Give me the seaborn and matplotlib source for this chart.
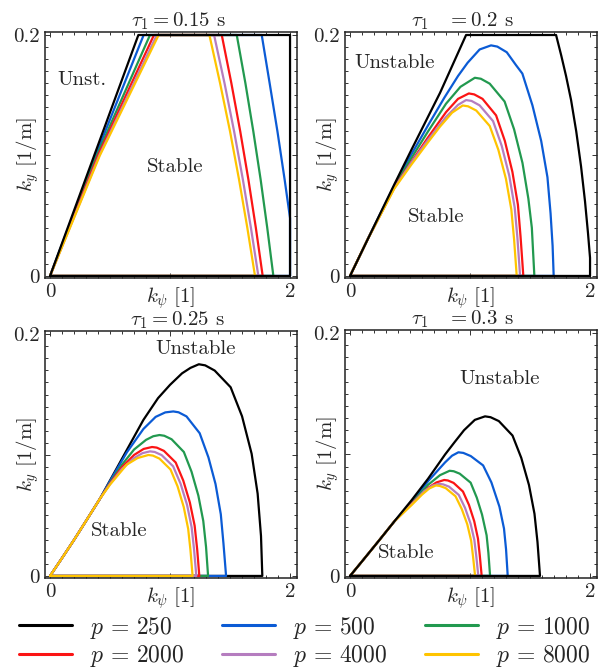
import numpy as np
import pandas as pd
import matplotlib
matplotlib.use("Agg")
import matplotlib.pyplot as plt
import seaborn as sns
from matplotlib.lines import Line2D
from matplotlib.ticker import FixedLocator, FixedFormatter, MultipleLocator

# Stability boundaries (k_psi, k_y), one list per curve
# tau_1 = 0.15 s
t15_p250 = [(0, 0), (0.736, 0.2), (2.0, 0.2), (2.0, 0), (0, 0)]
t15_p500 = [(0, 0), (0.38, 0.1), (0.78, 0.2), (1.764, 0.2), (1.83, 0.16), (1.895, 0.12),
            (1.955, 0.08), (2.0, 0.048), (2.0, 0), (0, 0)]
t15_p1000 = [(0, 0), (0.39, 0.1), (0.833, 0.2), (1.556, 0.2), (1.628, 0.16), (1.694, 0.12),
             (1.755, 0.08), (1.81, 0.04), (1.861, 0), (0, 0)]
t15_p2000 = [(0, 0), (0.40, 0.1), (0.866, 0.2), (1.431, 0.2), (1.511, 0.16), (1.585, 0.12),
             (1.653, 0.08), (1.715, 0.04), (1.772, 0), (0, 0)]
t15_p4000 = [(0, 0), (0.41, 0.1), (0.89, 0.2), (1.367, 0.2), (1.454, 0.16), (1.534, 0.12),
             (1.607, 0.08), (1.674, 0.04), (1.736, 0), (0, 0)]
t15_p8000 = [(0, 0), (0.415, 0.1), (0.905, 0.2), (1.328, 0.2), (1.417, 0.16), (1.500, 0.12),
             (1.575, 0.08), (1.644, 0.04), (1.708, 0), (0, 0)]

# tau_1 = 0.2 s
t20_p250 = [(0, 0), (0.15, 0.031), (0.369, 0.076), (0.508, 0.104), (0.75, 0.152), (0.967, 0.2),
            (1.717, 0.2), (1.76, 0.183), (1.80, 0.166), (1.842, 0.146), (1.885, 0.12),
            (1.925, 0.091), (1.958, 0.062), (1.983, 0.0355), (2.0, 0.015), (2.0, 0), (0, 0)]
t20_p500 = [(0, 0), (0.15, 0.031), (0.369, 0.075), (0.5, 0.099), (0.65, 0.125), (0.786, 0.148),
            (0.9, 0.166), (0.98, 0.177), (1.08, 0.188), (1.175, 0.1914), (1.227, 0.1904),
            (1.306, 0.1857), (1.383, 0.175), (1.436, 0.168), (1.52, 0.1416), (1.593, 0.112),
            (1.645, 0.082), (1.671, 0.052), (1.688, 0.025), (1.697, 0), (0, 0)]
t20_p1000 = [(0, 0), (0.15, 0.031), (0.369, 0.074), (0.5, 0.096), (0.65, 0.12), (0.8, 0.143),
             (0.92, 0.157), (1.04, 0.1645), (1.09, 0.1637), (1.164, 0.1596), (1.288, 0.1448),
             (1.367, 0.1217), (1.437, 0.0938), (1.486, 0.0642), (1.515, 0.04), (1.536, 0), (0, 0)]
t20_p2000 = [(0, 0), (0.15, 0.031), (0.369, 0.0735), (0.5, 0.093), (0.65, 0.115), (0.8, 0.136),
             (0.9, 0.147), (0.99, 0.1515), (1.035, 0.1507), (1.104, 0.147), (1.217, 0.1333),
             (1.29, 0.1121), (1.353, 0.0864), (1.399, 0.0591), (1.421, 0.0326), (1.444, 0), (0, 0)]
t20_p4000 = [(0, 0), (0.15, 0.031), (0.369, 0.073), (0.5, 0.0925), (0.65, 0.113), (0.8, 0.132),
             (0.9, 0.142), (0.967, 0.146), (1.012, 0.1453), (1.08, 0.1416), (1.192, 0.1285),
             (1.264, 0.108), (1.327, 0.0832), (1.372, 0.0569), (1.395, 0.0314), (1.417, 0), (0, 0)]
t20_p8000 = [(0, 0), (0.15, 0.031), (0.369, 0.0725), (0.508, 0.092), (0.65, 0.111), (0.75, 0.124),
             (0.85, 0.1355), (0.939, 0.1415), (0.984, 0.1408), (1.052, 0.1373), (1.164, 0.1245),
             (1.236, 0.1047), (1.299, 0.0807), (1.344, 0.0552), (1.367, 0.0304), (1.389, 0), (0, 0)]

# tau_1 = 0.25 s
t25_p250 = [(0, 0), (0.1, 0.0148), (0.2, 0.0298), (0.3, 0.0455), (0.417, 0.064), (0.5, 0.079),
            (0.6, 0.097), (0.7, 0.115), (0.778, 0.129), (0.9, 0.147), (1.0, 0.158), (1.1, 0.1675),
            (1.17, 0.172), (1.24, 0.175), (1.293, 0.1741), (1.372, 0.1698), (1.505, 0.156),
            (1.6, 0.132), (1.68, 0.101), (1.73, 0.068), (1.758, 0.033), (1.769, 0), (0, 0)]
t25_p500 = [(0, 0), (0.1, 0.0148), (0.2, 0.0298), (0.3, 0.0455), (0.417, 0.064), (0.5, 0.0785),
            (0.639, 0.102), (0.778, 0.1215), (0.88, 0.1315), (0.96, 0.1352), (1.027, 0.136),
            (1.071, 0.1353), (1.137, 0.1319), (1.247, 0.118), (1.32, 0.098), (1.379, 0.076),
            (1.423, 0.051), (1.445, 0.027), (1.467, 0), (0, 0)]
t25_p1000 = [(0, 0), (0.1, 0.0148), (0.2, 0.0298), (0.3, 0.0455), (0.417, 0.064), (0.5, 0.077),
             (0.6, 0.092), (0.7, 0.1045), (0.8, 0.1125), (0.86, 0.1155), (0.912, 0.1165),
             (0.952, 0.1159), (1.013, 0.113), (1.115, 0.1025), (1.179, 0.0862), (1.236, 0.0664),
             (1.277, 0.0454), (1.3, 0.024), (1.317, 0), (0, 0)]
t25_p2000 = [(0, 0), (0.1, 0.0148), (0.2, 0.0298), (0.3, 0.0455), (0.417, 0.064), (0.5, 0.0765),
             (0.6, 0.09), (0.7, 0.1), (0.78, 0.105), (0.85, 0.1066), (0.889, 0.1061),
             (0.949, 0.1034), (1.047, 0.0938), (1.11, 0.0789), (1.165, 0.0608), (1.205, 0.0416),
             (1.226, 0.0222), (1.244, 0), (0, 0)]
t25_p4000 = [(0, 0), (0.1, 0.0148), (0.2, 0.0298), (0.3, 0.0455), (0.417, 0.064), (0.5, 0.076),
             (0.6, 0.0885), (0.7, 0.0975), (0.77, 0.1015), (0.833, 0.103), (0.872, 0.1025),
             (0.93, 0.0999), (1.026, 0.0906), (1.088, 0.0762), (1.142, 0.0587), (1.18, 0.0402),
             (1.2, 0.0221), (1.219, 0), (0, 0)]
t25_p8000 = [(0, 0), (0.1, 0.0148), (0.2, 0.0298), (0.3, 0.0455), (0.417, 0.064), (0.5, 0.0755),
             (0.639, 0.092), (0.73, 0.0975), (0.82, 0.1), (0.857, 0.0995), (0.912, 0.097),
             (1.004, 0.088), (1.063, 0.074), (1.114, 0.057), (1.151, 0.039), (1.17, 0.0215),
             (1.188, 0), (0, 0)]

# tau_1 = 0.3 s
t30_p250 = [(0, 0), (0.1, 0.012), (0.236, 0.0285), (0.37, 0.045), (0.514, 0.0625), (0.65, 0.08),
            (0.792, 0.1), (0.87, 0.11), (0.95, 0.12), (1.04, 0.1285), (1.125, 0.1314),
            (1.171, 0.1307), (1.24, 0.1275), (1.354, 0.1156), (1.427, 0.0972), (1.491, 0.0749),
            (1.537, 0.0512), (1.562, 0.028), (1.583, 0), (0, 0)]
t30_p500 = [(0, 0), (0.1, 0.012), (0.236, 0.0285), (0.37, 0.045), (0.514, 0.061), (0.653, 0.0783),
            (0.792, 0.0935), (0.85, 0.099), (0.903, 0.1018), (0.944, 0.1013), (1.006, 0.0987),
            (1.109, 0.091), (1.178, 0.077), (1.245, 0.057), (1.283, 0.039), (1.3, 0.022),
            (1.314, 0), (0, 0)]
t30_p1000 = [(0, 0), (0.1, 0.012), (0.236, 0.0285), (0.37, 0.045), (0.514, 0.06), (0.65, 0.075),
             (0.75, 0.083), (0.83, 0.0866), (0.864, 0.0862), (0.914, 0.0842), (1.005, 0.0768),
             (1.056, 0.0645), (1.1, 0.0505), (1.138, 0.0335), (1.153, 0.019), (1.167, 0), (0, 0)]
t30_p2000 = [(0, 0), (0.1, 0.012), (0.236, 0.0285), (0.37, 0.045), (0.514, 0.0595), (0.65, 0.0725),
             (0.72, 0.077), (0.785, 0.079), (0.816, 0.0786), (0.863, 0.0766), (0.941, 0.0695),
             (0.991, 0.0585), (1.035, 0.045), (1.066, 0.0308), (1.081, 0.017), (1.097, 0), (0, 0)]
t30_p4000 = [(0, 0), (0.1, 0.012), (0.236, 0.0285), (0.37, 0.045), (0.514, 0.059), (0.62, 0.07),
             (0.69, 0.0745), (0.743, 0.0758), (0.776, 0.0754), (0.825, 0.0735), (0.906, 0.0667),
             (0.958, 0.0561), (1.004, 0.0432), (1.036, 0.0296), (1.052, 0.0163), (1.069, 0), (0, 0)]
t30_p8000 = [(0, 0), (0.1, 0.012), (0.236, 0.0285), (0.37, 0.045), (0.514, 0.0585), (0.6, 0.067),
             (0.66, 0.072), (0.715, 0.0745), (0.748, 0.0741), (0.797, 0.0723), (0.879, 0.0656),
             (0.931, 0.0551), (0.977, 0.0425), (1.009, 0.0291), (1.025, 0.016), (1.042, 0), (0, 0)]

p_values = [250, 500, 1000, 2000, 4000, 8000]
colors = ["#000000", "#0b5bd5", "#22994f", "#fb1414", "#b57dbf", "#ffc400"]
taus = ["0.15", "0.2", "0.25", "0.3"]
curves = {
    "0.15": [t15_p250, t15_p500, t15_p1000, t15_p2000, t15_p4000, t15_p8000],
    "0.2": [t20_p250, t20_p500, t20_p1000, t20_p2000, t20_p4000, t20_p8000],
    "0.25": [t25_p250, t25_p500, t25_p1000, t25_p2000, t25_p4000, t25_p8000],
    "0.3": [t30_p250, t30_p500, t30_p1000, t30_p2000, t30_p4000, t30_p8000],
}
titles = [r"$\tau_1 = 0.15$ s", r"$\tau_1\quad = 0.2$ s", r"$\tau_1 = 0.25$ s", r"$\tau_1\quad = 0.3$ s"]
region_text = [
    [("Unst.", 0.27, 0.163), ("Stable", 1.04, 0.09)],
    [("Unstable", 0.375, 0.177), ("Stable", 0.717, 0.049)],
    [("Unstable", 1.213, 0.1876), ("Stable", 0.58, 0.037)],
    [("Unstable", 1.247, 0.162), ("Stable", 0.467, 0.019)],
]

rows = []
for tau in taus:
    for p, pts in zip(p_values, curves[tau]):
        for i, (x, y) in enumerate(pts):
            rows.append({"tau": tau, "p": p, "i": i, "k_psi": x, "k_y": y})
df = pd.DataFrame(rows)

sns.set_style("ticks")
plt.rcParams["font.family"] = ["cmr10", "DejaVu Serif"]
plt.rcParams["mathtext.fontset"] = "cm"
plt.rcParams["axes.formatter.use_mathtext"] = True
plt.rcParams["axes.unicode_minus"] = False

fig = plt.figure(figsize=(6.09, 6.70), dpi=100)
W, H = 609, 670
boxes = [(45, 32, 297, 278), (345, 32, 597, 278), (45, 331, 297, 578), (345, 330, 597, 578)]
title_x = [0.528, 0.464, 0.525, 0.464]
palette = dict(zip(p_values, colors))

for k, tau in enumerate(taus):
    l, t, r, b = boxes[k]
    ax = fig.add_axes([l / W, 1 - b / H, (r - l) / W, (b - t) / H])
    sub = df[df["tau"] == tau]
    # black drawn last except in the 0.25 s panel, where yellow is on top
    order = p_values if k == 2 else p_values[1:] + p_values[:1]
    sns.lineplot(data=sub, x="k_psi", y="k_y", hue="p", hue_order=order, palette=palette,
                 sort=False, estimator=None, linewidth=1.6, legend=False, ax=ax)
    ax.set_xlim(-0.042, 2.058)
    ax.set_ylim(-0.0017, 0.2025)
    ax.xaxis.set_major_locator(FixedLocator([0, 1, 2]))
    ax.xaxis.set_major_formatter(FixedFormatter(["0", "", "2"]))
    ax.yaxis.set_major_locator(FixedLocator([0, 0.1, 0.2]))
    ax.yaxis.set_major_formatter(FixedFormatter(["0", "", "0.2"]))
    ax.xaxis.set_minor_locator(MultipleLocator(0.1))
    ax.yaxis.set_minor_locator(MultipleLocator(0.01))
    ax.tick_params(which="both", direction="in", top=True, right=True, labelsize=15,
                   width=0.7, color="#333333")
    ax.tick_params(which="major", length=3.5, pad=4)
    ax.tick_params(which="minor", length=2)
    for s in ax.spines.values():
        s.set_linewidth(1.1)
        s.set_color("#222222")
    ax.set_xlabel(r"$k_\psi\ [1]$", fontsize=15)
    ax.set_ylabel(r"$k_y\ [1/\mathrm{m}]$", fontsize=15)
    ax.xaxis.set_label_coords(0.5, -0.03)
    ax.yaxis.set_label_coords(-0.015, 0.5)
    ax.set_title(titles[k], fontsize=15, x=title_x[k], pad=4)
    for txt, x, y in region_text[k]:
        ax.text(x, y, txt, ha="center", va="center", fontsize=15)

# legend filled row by row: 250 500 1000 / 2000 4000 8000
leg_order = [0, 3, 1, 4, 2, 5]
handles = [Line2D([], [], color=colors[j], linewidth=2.2) for j in leg_order]
labels = [rf"$p\,=\,{p_values[j]}$" for j in leg_order]
fig.legend(handles, labels, loc="center", bbox_to_anchor=(0.5, 1 - 642 / H), ncol=3,
           frameon=False, fontsize=17, handlelength=2.25, handletextpad=0.75,
           columnspacing=1.6, labelspacing=0.12, borderaxespad=0, borderpad=0)

fig.savefig("out.png", dpi=100)
